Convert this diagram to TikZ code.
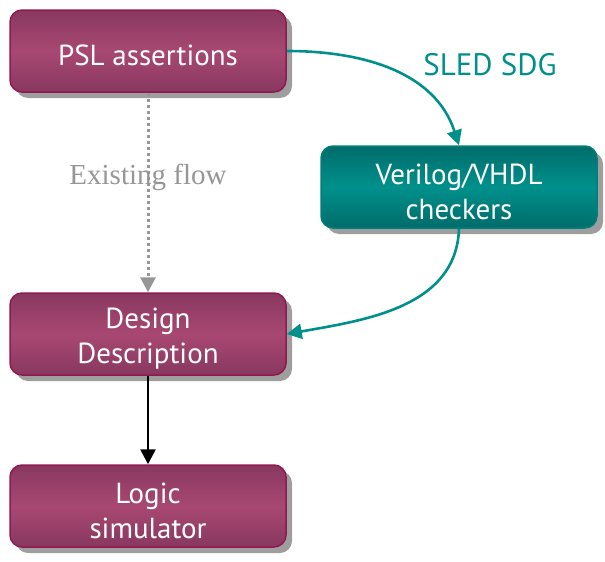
\documentclass[tikz,border=0pt]{standalone}
\usepackage{fontspec}
\setmainfont{PT Sans}
\newfontfamily\flowfont{Liberation Serif}
\usetikzlibrary{arrows.meta,shadows}

\definecolor{plum}{RGB}{168,72,114}
\definecolor{plumdark}{RGB}{136,56,96}
\definecolor{plumline}{RGB}{146,24,80}
\definecolor{tealmid}{RGB}{0,144,140}
\definecolor{tealdark}{RGB}{0,108,106}
\definecolor{tealline}{RGB}{0,128,124}
\definecolor{flowgray}{RGB}{150,150,150}

\tikzset{
    block/.style={rounded corners=12pt, minimum width=276pt, minimum height=82pt,
        align=center, text=white, line width=1.5pt, inner sep=2pt, text height=30pt,
        font=\fontsize{29}{35}\selectfont,
        drop shadow={shadow xshift=6pt, shadow yshift=-6pt, fill=black!38, opacity=1}},
    twoline/.style={text height=65pt},
    plumbox/.style={block, draw=plumline, top color=plumdark, bottom color=plumdark, middle color=plum},
    tealbox/.style={block, draw=tealline, top color=tealdark, bottom color=tealdark, middle color=tealmid},
    tip/.style={-{Triangle[length=15pt,width=15pt]}}
}

\begin{document}
\begin{tikzpicture}[x=1pt,y=1pt]
            \useasboundingbox (0,0) rectangle (605,-562);

            \node[plumbox] (psl) at (148,-51) {PSL assertions};
            \node[tealbox, twoline] (checkers) at (459,-187) {Verilog/VHDL\\checkers};
            \node[plumbox, twoline] (design) at (148,-334) {Design\\Description};
            \node[plumbox, twoline] (simulator) at (148,-506) {Logic\\simulator};

            \draw[tip, flowgray, line width=3pt, dash pattern=on 3pt off 3pt] (psl) to (design);
            \node[text=flowgray, font=\flowfont\fontsize{29}{33}\selectfont] (existing) at (148,-177) {Existing flow};

            \draw[tip, tealmid, line width=2.6pt] (psl.east) to[out=0, in=108] (checkers.north);
            \node[text=tealmid, font=\fontsize{31}{35}\selectfont] (sled) at (490,-65) {SLED SDG};
            \draw[tip, tealmid, line width=2.6pt] (checkers.south) to[out=-92, in=10] (design.east);

            \draw[tip, black, line width=2.6pt] (design) to (simulator);
        \end{tikzpicture}
\end{document}
